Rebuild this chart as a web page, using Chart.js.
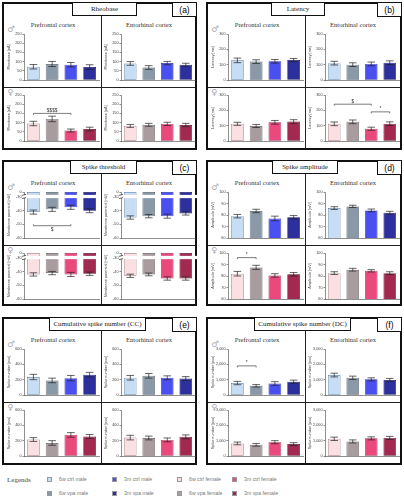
<!DOCTYPE html>
<html>
<head>
<meta charset="utf-8">
<script src="https://cdn.jsdelivr.net/npm/chart.js@4.4.1/dist/chart.umd.min.js"></script>
<style>
body { margin: 0; width: 404px; height: 500px; background: #fff; position: relative; overflow: hidden; font-family: "Liberation Serif", serif; }
.panel { position: absolute; border: 2px solid #111; box-sizing: border-box; }
.ttl { position: absolute; top: -2px; height: 14px; line-height: 13px; border: 1px solid #111; background: #fff; font-size: 7px; text-align: center; box-sizing: border-box; color: #222; white-space: nowrap; }
.lbl { position: absolute; top: -2px; right: -2px; width: 25px; height: 15px; line-height: 14px; border: 1.5px solid #111; background: #fff; font-family: "Liberation Sans", sans-serif; font-size: 8.5px; text-align: center; box-sizing: border-box; }
.vdiv { position: absolute; left: 97px; top: 12px; bottom: 0; border-left: 1px solid #222; }
.hdiv { position: absolute; left: 0; right: 0; top: 83px; border-top: 1px solid #222; }
.reg { position: absolute; top: 17px; font-size: 6.6px; color: #333; width: 92px; text-align: center; }
.sex { position: absolute; left: 3px; color: #aaa; font-family: "DejaVu Sans", sans-serif; font-size: 8.5px; }
canvas { position: absolute; }
.leg { position: absolute; font-family: "Liberation Sans", sans-serif; font-size: 5.2px; color: #777; white-space: nowrap; }
.sq { position: absolute; width: 5px; height: 5px; box-sizing: border-box; border: 0.8px solid #999; }
</style>
</head>
<body>
<div id="root"></div>
<script>
const groups = ['6w ctrl', '6w vpa', '3m ctrl', '3m vpa'];
const groupsVPA = ['6w ctrl', '6w VPA', '3m ctrl', '3m VPA'];
const maleColors = ['#c7ddf3', '#8a99a8', '#4a4ff0', '#2c2f9c'];
const maleBorders = ['#5b7ea3', '#4d5a66', '#2a2ea0', '#16185e'];
const femaleColors = ['#fbe0e3', '#a99c9f', '#ea497c', '#a2294f'];
const femaleBorders = ['#9a7479', '#5e5456', '#9c2350', '#5c1029'];

// (a) Rheobase [pA]
const rheoPfcMale = [72, 87, 83, 70];
const rheoPfcMaleErr = [12, 14, 12, 13];
const rheoEcMale = [90, 68, 92, 83];
const rheoEcMaleErr = [10, 10, 9, 8];
const rheoPfcFemale = [95, 120, 57, 65];
const rheoPfcFemaleErr = [12, 15, 8, 10];
const rheoEcFemale = [82, 88, 93, 87];
const rheoEcFemaleErr = [8, 8, 9, 9];

// (b) Latency [ms]
const latPfcMale = [128, 120, 122, 130];
const latPfcMaleErr = [15, 12, 12, 10];
const latEcMale = [110, 100, 105, 113];
const latEcMaleErr = [12, 12, 12, 12];
const latPfcFemale = [112, 98, 122, 127];
const latPfcFemaleErr = [10, 10, 12, 12];
const latEcFemale = [112, 125, 80, 113];
const latEcFemaleErr = [12, 12, 10, 12];

// (c) Spike threshold, membrane potential [mV]
const thrPfcMale = [-41, -39, -37.5, -40];
const thrPfcMaleErr = [1.5, 1.5, 1.5, 1.5];
const thrEcMale = [-45, -44, -44, -42];
const thrEcMaleErr = [1.2, 1.2, 1.5, 1.2];
const thrPfcFemale = [-42, -41, -42, -41.5];
const thrPfcFemaleErr = [1.2, 1.2, 1.5, 1.2];
const thrEcFemale = [-43, -42, -45, -45];
const thrEcFemaleErr = [1.2, 1, 1.2, 1.2];

// (d) Spike amplitude [mV]
const ampPfcMale = [79, 83.5, 77, 78];
const ampPfcMaleErr = [1.5, 1.5, 2, 1.5];
const ampEcMale = [86, 87.5, 84, 82];
const ampEcMaleErr = [1.2, 1, 1.2, 1.2];
const ampPfcFemale = [82, 87.5, 80.5, 81.5];
const ampPfcFemaleErr = [2, 1.8, 1.5, 1.5];
const ampEcFemale = [82.5, 85.5, 84.5, 82.5];
const ampEcFemaleErr = [1.2, 1.2, 1, 1.2];

// (e) Cumulative spike number (CC) [pcs]
const ccPfcMale = [235, 190, 220, 265];
const ccPfcMaleErr = [35, 30, 35, 30];
const ccEcMale = [225, 250, 225, 215];
const ccEcMaleErr = [30, 30, 25, 25];
const ccPfcFemale = [215, 170, 275, 255];
const ccPfcFemaleErr = [25, 30, 30, 25];
const ccEcFemale = [240, 235, 210, 250];
const ccEcFemaleErr = [30, 25, 25, 25];

// (f) Cumulative spike number (DC) [pcs]
const dcPfcMale = [780, 600, 750, 870];
const dcPfcMaleErr = [110, 80, 120, 100];
const dcEcMale = [1300, 1120, 1020, 980];
const dcEcMaleErr = [120, 110, 100, 100];
const dcPfcFemale = [820, 730, 900, 780];
const dcPfcFemaleErr = [90, 90, 100, 90];
const dcEcFemale = [1120, 950, 1150, 1180];
const dcEcFemaleErr = [110, 100, 100, 100];

const thrTop = -26.3;   // where "0" sits on the broken axis
const thrTicks = [-60, -50, -40, -30, thrTop];

const legendItems = [
  ['6w ctrl male', maleColors[0]], ['6w vpa male', maleColors[1]],
  ['3m ctrl male', maleColors[2]], ['3m vpa male', maleColors[3]],
  ['6w ctrl female', femaleColors[0]], ['6w vpa female', femaleColors[1]],
  ['3m ctrl female', femaleColors[2]], ['3m vpa female', femaleColors[3]]
];

const panels = [
  { id: 'a', title: 'Rheobase', x: 2, y: 2, w: 195, h: 148, tx: 68, tw: 65, yTitle: 'Rheobase [pA]', min: 0, max: 250, step: 50,
    charts: [[rheoPfcMale, rheoPfcMaleErr], [rheoEcMale, rheoEcMaleErr], [rheoPfcFemale, rheoPfcFemaleErr, [{ from: 0, to: 2, y: 150, text: '$$$$' }], groupsVPA], [rheoEcFemale, rheoEcFemaleErr]] },
  { id: 'b', title: 'Latency', x: 206, y: 2, w: 196, h: 148, tx: 63, tw: 54, yTitle: 'Latency [ms]', min: 0, max: 300, step: 100,
    charts: [[latPfcMale, latPfcMaleErr], [latEcMale, latEcMaleErr], [latPfcFemale, latPfcFemaleErr], [latEcFemale, latEcFemaleErr, [{ from: 0, to: 2, y: 240, text: '$' }, { from: 2, to: 3, y: 190, text: '*' }]]] },
  { id: 'c', title: 'Spike threshold', x: 2, y: 160, w: 195, h: 146, tx: 66, tw: 67, yTitle: 'Membrane potential [mV]', min: -60, max: thrTop, broken: true,
    charts: [[thrPfcMale, thrPfcMaleErr, [{ from: 0, to: 2, y: -51, text: '$', below: true }]], [thrEcMale, thrEcMaleErr], [thrPfcFemale, thrPfcFemaleErr], [thrEcFemale, thrEcFemaleErr]] },
  { id: 'd', title: 'Spike amplitude', x: 206, y: 160, w: 196, h: 146, tx: 64, tw: 66, yTitle: 'Amplitude [mV]', min: 60, max: 100, step: 10,
    charts: [[ampPfcMale, ampPfcMaleErr], [ampEcMale, ampEcMaleErr], [ampPfcFemale, ampPfcFemaleErr, [{ from: 0, to: 1, y: 96, text: '*' }]], [ampEcFemale, ampEcFemaleErr]] },
  { id: 'e', title: 'Cumulative spike number (CC)', x: 2, y: 317, w: 195, h: 148, tx: 45, tw: 97, yTitle: 'Spike number [pcs]', min: 0, max: 600, step: 200,
    charts: [[ccPfcMale, ccPfcMaleErr], [ccEcMale, ccEcMaleErr], [ccPfcFemale, ccPfcFemaleErr], [ccEcFemale, ccEcFemaleErr]] },
  { id: 'f', title: 'Cumulative spike number (DC)', x: 206, y: 317, w: 196, h: 148, tx: 46, tw: 97, yTitle: 'Spike number [pcs]', min: 0, max: 3000, step: 1000,
    charts: [[dcPfcMale, dcPfcMaleErr, [{ from: 0, to: 1, y: 1900, text: '*' }]], [dcEcMale, dcEcMaleErr], [dcPfcFemale, dcPfcFemaleErr], [dcEcFemale, dcEcFemaleErr]] }
];

// error bars + significance brackets + axis break, all through the scales
const extras = {
  id: 'extras',
  afterDatasetsDraw(chart) {
    const ds = chart.data.datasets[0];
    const meta = chart.getDatasetMeta(0);
    const ys = chart.scales.y;
    const ctx = chart.ctx;
    ctx.save();
    ctx.strokeStyle = '#222';
    ctx.lineWidth = 0.7;
    meta.data.forEach((bar, i) => {
      const m = ds.means[i], e = ds.err[i];
      const y1 = ys.getPixelForValue(m + e), y2 = ys.getPixelForValue(m - e);
      const cw = bar.width * 0.3;
      ctx.beginPath();
      ctx.moveTo(bar.x, y1); ctx.lineTo(bar.x, y2);
      ctx.moveTo(bar.x - cw, y1); ctx.lineTo(bar.x + cw, y1);
      ctx.moveTo(bar.x - cw, y2); ctx.lineTo(bar.x + cw, y2);
      ctx.stroke();
    });
    if (ds.broken) {
      const a = ys.getPixelForValue(-28.4), b = ys.getPixelForValue(-30.8);
      ctx.fillStyle = '#fff';
      ctx.fillRect(chart.chartArea.left - 2, a, chart.chartArea.right - chart.chartArea.left + 4, b - a);
      ctx.beginPath();
      ctx.moveTo(chart.chartArea.left - 2, a + 0.5); ctx.lineTo(chart.chartArea.left + 2, a - 0.5);
      ctx.moveTo(chart.chartArea.left - 2, b + 0.5); ctx.lineTo(chart.chartArea.left + 2, b - 0.5);
      ctx.stroke();
    }
    (ds.sig || []).forEach(s => {
      const xa = meta.data[s.from].x, xb = meta.data[s.to].x;
      const yy = ys.getPixelForValue(s.y);
      ctx.strokeStyle = '#444';
      ctx.beginPath();
      ctx.moveTo(xa, yy + (s.below ? -1.5 : 1.5)); ctx.lineTo(xa, yy);
      ctx.lineTo(xb, yy); ctx.lineTo(xb, yy + (s.below ? -1.5 : 1.5));
      ctx.stroke();
      ctx.fillStyle = '#333';
      ctx.font = '4.8px "Liberation Sans"';
      ctx.textAlign = 'center';
      ctx.textBaseline = s.below ? 'top' : 'bottom';
      ctx.fillText(s.text, (xa + xb) / 2, s.below ? yy + 1.5 : yy - 0.5);
    });
    ctx.restore();
  }
};

function makeChart(parent, left, top, w, h, p, spec, female) {
  const [vals, errs, sig, labels] = spec;
  const c = document.createElement('canvas');
  c.width = w; c.height = h;
  c.style.left = left + 'px'; c.style.top = top + 'px';
  parent.appendChild(c);
  const yScale = {
    min: p.min, max: p.max,
    ticks: { font: { size: 3.8, family: 'Liberation Sans' }, color: '#444', padding: 1, autoSkip: false },
    grid: { drawOnChartArea: false, drawTicks: true, tickLength: 1.5, color: '#444', lineWidth: 0.6 },
    border: { color: '#444', width: 0.6 },
    title: { display: true, text: p.yTitle, font: { size: 3.8, family: 'Liberation Sans' }, color: '#444', padding: 0 },
    afterFit: s => { s.width = 17; }
  };
  if (p.broken) {
    yScale.afterBuildTicks = s => { s.ticks = thrTicks.map(v => ({ value: v })); };
    yScale.ticks.callback = v => (v > -27 ? '0' : v);
  } else {
    yScale.ticks.stepSize = p.step;
  }
  new Chart(c, {
    type: 'bar',
    data: {
      labels: labels || groups,
      datasets: [{
        data: p.broken ? vals.map(v => [thrTop, v]) : vals,
        means: vals, err: errs, sig: sig, broken: p.broken,
        backgroundColor: female ? femaleColors : maleColors,
        borderColor: female ? femaleBorders : maleBorders,
        borderWidth: 0.7,
        borderSkipped: false,
        barPercentage: 0.68,
        categoryPercentage: 1
      }]
    },
    options: {
      responsive: false,
      animation: false,
      devicePixelRatio: 1,
      layout: { padding: { top: 4, right: 2, left: 0, bottom: 0 } },
      plugins: { legend: { display: false }, tooltip: { enabled: false } },
      scales: {
        x: {
          ticks: { font: { size: 3.8, family: 'Liberation Sans' }, color: '#444', maxRotation: 0, autoSkip: false, padding: 1 },
          grid: { display: false },
          border: { color: '#444', width: 0.6 },
          afterFit: s => { s.height = 7; }
        },
        y: yScale
      }
    },
    plugins: [extras]
  });
}

const root = document.getElementById('root');
panels.forEach(p => {
  const d = document.createElement('div');
  d.className = 'panel';
  d.style.left = p.x + 'px'; d.style.top = p.y + 'px';
  d.style.width = p.w + 'px'; d.style.height = p.h + 'px';
  d.innerHTML =
    '<div class="vdiv"></div><div class="hdiv"></div>' +
    '<div class="ttl" style="left:' + p.tx + 'px;width:' + p.tw + 'px">' + p.title + '</div>' +
    '<div class="lbl">(' + p.id + ')</div>' +
    '<div class="reg" style="left:3px">Prefrontal cortex</div>' +
    '<div class="reg" style="left:99px">Entorhinal cortex</div>' +
    '<div class="sex" style="top:20px">♂</div>' +
    '<div class="sex" style="top:83px">♀</div>';
  root.appendChild(d);
  makeChart(d, 3, 26, 94, 57, p, p.charts[0], false);
  makeChart(d, 100, 26, 93, 57, p, p.charts[1], false);
  makeChart(d, 3, 87, 94, 57, p, p.charts[2], true);
  makeChart(d, 100, 87, 93, 57, p, p.charts[3], true);
});

// legend block at the bottom
const leg = document.createElement('div');
leg.className = 'leg';
leg.style.cssText = 'left:7px;top:476px;font-family:"Liberation Serif",serif;font-size:7px;color:#444';
leg.textContent = 'Legends';
root.appendChild(leg);
const colX = [47, 112, 177, 232];
legendItems.forEach((it, i) => {
  const col = Math.floor(i / 2), row = i % 2;
  const sq = document.createElement('div');
  sq.className = 'sq';
  sq.style.left = colX[col] + 'px'; sq.style.top = (477 + row * 14) + 'px';
  sq.style.background = it[1];
  root.appendChild(sq);
  const t = document.createElement('div');
  t.className = 'leg';
  t.style.left = (colX[col] + 12) + 'px'; t.style.top = (476 + row * 14) + 'px';
  t.textContent = it[0];
  root.appendChild(t);
});
</script>
</body>
</html>
